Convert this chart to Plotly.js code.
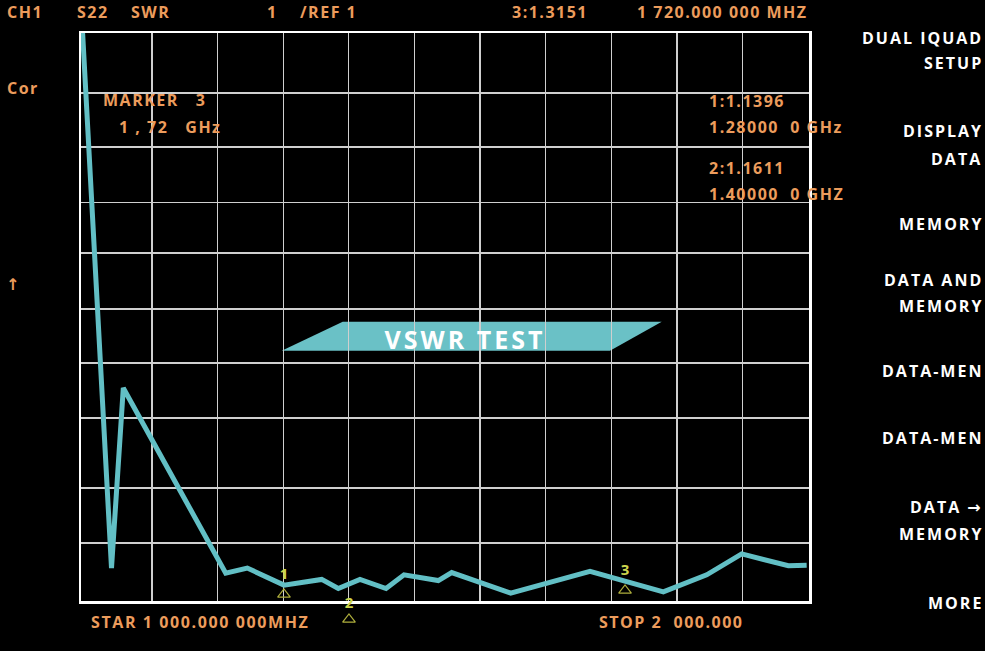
<!DOCTYPE html>
<html><head><meta charset="utf-8">
<script src="https://cdn.plot.ly/plotly-3.0.1.min.js"></script>
<style>html,body{margin:0;padding:0;background:#000;overflow:hidden}#chart{width:985px;height:651px}</style>
</head><body><div id="chart"></div>
<script>
// ---- data ----
const freqMHz = [1002.0, 1041.9, 1058.1, 1198.8, 1228.4, 1278.8, 1330.6, 1353.4, 1383.2, 1419.0, 1443.7, 1490.8, 1509.2, 1590.2, 1699.2, 1799.9, 1859.5, 1907.6, 1971.6, 1996.8];
const swrDiv  = [10.05, 0.58, 3.75, 0.49, 0.58, 0.28, 0.38, 0.22, 0.38, 0.22, 0.46, 0.36, 0.50, 0.14, 0.52, 0.16, 0.46, 0.83, 0.62, 0.63];
const markerNames = ['1', '2', '3'];
const markerFreq  = [1278.8, 1368.1, 1747.3];
const markerTriY  = [0.116, -0.324, 0.187];
const markerNumY  = [0.449, -0.053, 0.528];
const gridFreq = [1097.5, 1187.2, 1277.9, 1367.7, 1457.8, 1548.1, 1638.3, 1728.4, 1818.7, 1908.9];
const gridDiv  = [1.02, 1.99, 3.22, 4.19, 5.14, 6.13, 7.02, 7.99, 8.94];
const headerTexts = ['CH1', 'S22', 'SWR', '1', '/REF 1', '3:1.3151', '1 720.000 000 MHZ'];
const markerInfo = ['MARKER\u00a0\u00a0\u00a03', '1\u00a0,\u00a072\u00a0\u00a0\u00a0GHz', '1:1.1396', '1.28000\u00a0\u00a00\u00a0GHz', '2:1.1611', '1.40000\u00a0\u00a00\u00a0GHZ'];
const sideTexts = ['Cor', '\u2191'];
const footTexts = ['STAR 1 000.000 000MHZ', 'STOP 2\u00a0\u00a0000.000'];
const menuTexts = ['DUAL IQUAD', 'SETUP', 'DISPLAY', 'DATA', 'MEMORY', 'DATA AND', 'MEMORY', 'DATA-MEN', 'DATA-MEN', 'DATA \u2192', 'MEMORY', 'MORE'];
const bannerText = 'VSWR TEST';

// ---- layout geometry ----
const L = 81, R = 809, T = 33, B = 601, PB = 631;   // PB: bottom of the (wider) marker subplot
const X_RANGE = [1000, 2000], Y_RANGE = [0, 10];
const unitPx = (B - T) / (Y_RANGE[1] - Y_RANGE[0]);
const px = x => (x - L) / (R - L);
const py = y => (PB - y) / (PB - T);
const ORANGE = '#ec9c5c', WHITE = '#ffffff', TEAL = '#62bfc5';
const FONT = 'Open Sans, Noto Sans, DejaVu Sans, sans-serif';

const annotations = [], spacing = [];
function lab(text, x, y, anchor, color, size, ls) {
  annotations.push({text: text, xref: 'paper', yref: 'paper', x: px(x), y: py(y), xanchor: anchor, yanchor: 'middle',
    showarrow: false, borderpad: 0, borderwidth: 0, align: anchor === 'right' ? 'right' : (anchor === 'center' ? 'center' : 'left'),
    font: {family: FONT, size: size, color: color, weight: 700}});
  spacing.push(ls);
}
const headerX = [7, 77, 131, 267, 300, 512, 637];
headerTexts.forEach((t, i) => lab(t, headerX[i], 12.5, 'left', ORANGE, 16, 1.5));
const infoPos = [[103, 100.5], [119, 127.5], [709, 101], [709, 127.5], [709, 168], [709, 194]];
markerInfo.forEach((t, i) => lab(t, infoPos[i][0], infoPos[i][1], 'left', ORANGE, 16, 1.5));
lab(sideTexts[0], 7, 88, 'left', ORANGE, 16, 1.5);
lab(sideTexts[1], 6, 284, 'left', ORANGE, 16, 0);
lab(footTexts[0], 91, 621.5, 'left', ORANGE, 16, 1.6);
lab(footTexts[1], 599, 621.5, 'left', ORANGE, 16, 1.5);
const menuY = [37.5, 63, 131.5, 158.5, 224.5, 280, 305.5, 371, 437.5, 507, 533.5, 603];
menuTexts.forEach((t, i) => lab(t, 983, menuY[i], 'right', WHITE, 16, 2));
lab(bannerText, 465, 339.5, 'center', WHITE, 25, 3);

const banner = [[281.7, 350.7], [342.7, 321.7], [661.7, 321.7], [610, 350.7]];
const bannerPath = 'M' + banner.map(p => px(p[0]).toFixed(4) + ',' + py(p[1]).toFixed(4)).join('L') + 'Z';

const traces = [
  {x: freqMHz, y: swrDiv, mode: 'lines', line: {color: TEAL, width: 5}, hoverinfo: 'skip', xaxis: 'x', yaxis: 'y'},
  {x: markerFreq, y: markerTriY, mode: 'markers', cliponaxis: false, xaxis: 'x2', yaxis: 'y2',
   marker: {symbol: 'triangle-up-open', size: 11, color: '#aeae3c', line: {width: 1.2}}, hoverinfo: 'skip'},
  {x: markerFreq, y: markerNumY, mode: 'text', text: markerNames, textposition: 'middle center', cliponaxis: false, xaxis: 'x2', yaxis: 'y2',
   textfont: {family: FONT, size: 15, color: '#cdd64e', weight: 700}, hoverinfo: 'skip'}
];

const axisCommon = {showticklabels: false, ticks: '', showgrid: true, gridcolor: '#cfcfcf', gridwidth: 1.5,
  zeroline: false, showline: true, mirror: true, linecolor: '#ffffff', linewidth: 2.5, fixedrange: true, tickmode: 'array'};
const hidden = {visible: false, showgrid: false, zeroline: false, fixedrange: true};

const layout = {
  width: 985, height: 651, showlegend: false, hovermode: false,
  paper_bgcolor: '#000000', plot_bgcolor: 'rgba(0,0,0,0)',
  margin: {l: L, r: 985 - R, t: T, b: 651 - PB, pad: 0},
  xaxis: Object.assign({range: X_RANGE, tickvals: gridFreq, anchor: 'y', domain: [0, 1]}, axisCommon),
  yaxis: Object.assign({range: Y_RANGE, tickvals: gridDiv, anchor: 'x', domain: [(PB - B) / (PB - T), 1]}, axisCommon),
  xaxis2: Object.assign({range: X_RANGE, anchor: 'y2', domain: [0, 1]}, hidden),
  yaxis2: Object.assign({range: [Y_RANGE[0] - (PB - B) / unitPx, Y_RANGE[1]], anchor: 'x2', domain: [0, 1]}, hidden),
  shapes: [{type: 'path', xref: 'paper', yref: 'paper', path: bannerPath, fillcolor: '#6ac1c6', line: {width: 0}, layer: 'below'}],
  annotations: annotations
};

Plotly.newPlot('chart', traces, layout, {displayModeBar: false, staticPlot: true}).then(() => {
  document.querySelectorAll('#chart .annotation').forEach(g => {
    const i = +g.getAttribute('data-index');
    const t = g.querySelector('text');
    if (t && spacing[i]) t.style.letterSpacing = spacing[i] + 'px';
  });
});
</script></body></html>
